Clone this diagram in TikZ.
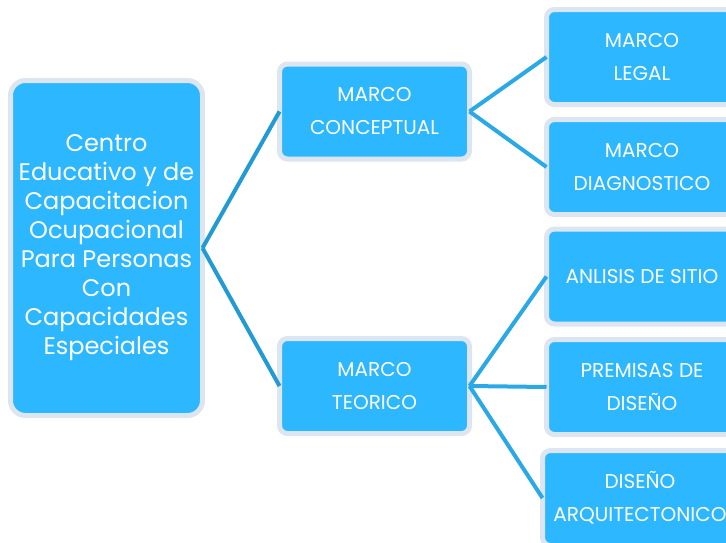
\documentclass[tikz,border=0pt]{standalone}
\usepackage{fontspec}
\setmainfont{Poppins}
\usepackage{tikz}
\usetikzlibrary{positioning}
\definecolor{boxblue}{HTML}{2DB7FF}
\definecolor{boxrim}{HTML}{DCE5F0}
\definecolor{rootline}{HTML}{229BD4}
\definecolor{branchline}{HTML}{2AA9E6}
\tikzset{
    box/.style={rectangle, rounded corners=8pt, draw=boxrim, line width=5pt, fill=boxblue,
        text=white, align=center, inner sep=0pt, outer sep=0pt},
    rootbox/.style={box, rounded corners=15pt, minimum width=192pt, minimum height=335pt,
        font=\fontsize{24}{29}\selectfont},
    midbox/.style={box, minimum width=190pt, minimum height=95pt, font=\fontsize{20}{33}\selectfont},
    leafbox/.style={box, minimum width=191pt, minimum height=95pt, font=\fontsize{20}{33}\selectfont},
    link/.style={line width=4pt}
}

\begin{document}
\begin{tikzpicture}[x=1pt,y=-1pt]
    \useasboundingbox (0,0) rectangle (726,542);
    \clip (0,0) rectangle (726,542);
    \node[rootbox] (root) at (106.5,248) {Centro\\Educativo y de\\Capacitacion\\Ocupacional\\Para Personas\\Con\\Capacidades\\Especiales};
    \node[midbox] (conc) at (374.5,111.5) {MARCO\\CONCEPTUAL};
    \node[midbox] (teor) at (374.5,386) {MARCO\\TEORICO};
    \node[leafbox] (legal) at (642,57) {MARCO\\LEGAL};
    \node[leafbox] (diag) at (642,167) {MARCO\\DIAGNOSTICO};
    \node[leafbox] (sitio) at (642,276.5) {ANLISIS DE SITIO};
    \node[leafbox] (prem) at (642,387) {PREMISAS DE\\DISEÑO};
    \node[leafbox, minimum width=195pt] (arq) at (640,498) {DISEÑO\\ARQUITECTONICO};
    \draw[link, rootline] (root.east) -- (conc.west);
    \draw[link, rootline] (root.east) -- (teor.west);
    \draw[link, branchline] (conc.east) -- (legal.west);
    \draw[link, branchline] (conc.east) -- (diag.west);
    \draw[link, branchline] (teor.east) -- (sitio.west);
    \draw[link, branchline] (teor.east) -- (prem.west);
    \draw[link, branchline] (teor.east) -- (arq.west);
\end{tikzpicture}
\end{document}
